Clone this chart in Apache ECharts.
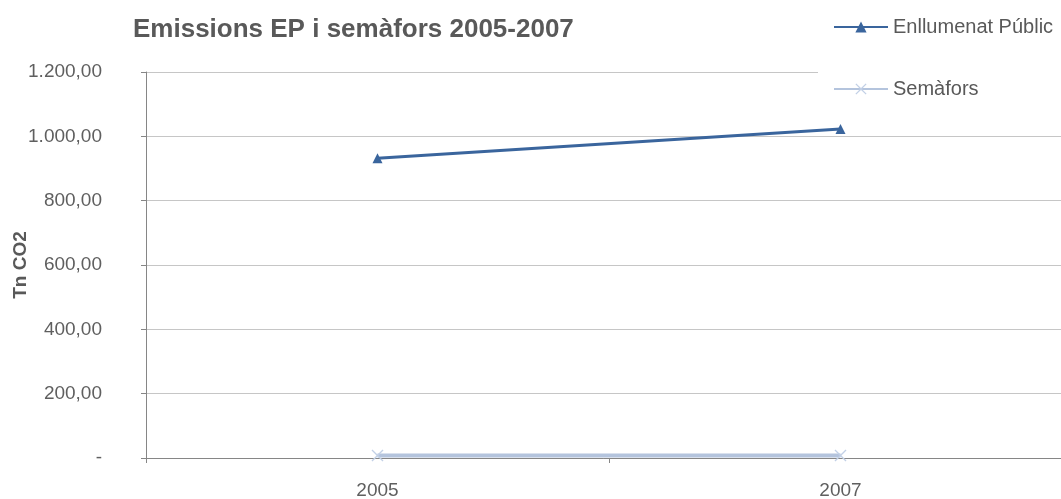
<!DOCTYPE html>
<html><head><meta charset="utf-8">
<script src="https://cdn.jsdelivr.net/npm/echarts@6/dist/echarts.min.js"></script>
<style>html,body{margin:0;padding:0;background:#fff}#c{width:1061px;height:499px}</style>
</head><body><div id="c"></div>
<script>
const categories = ['2005', '2007'];
const enllumenat = [932, 1023];
const semafors = [8, 8];
const yTicks = [0, 200, 400, 600, 800, 1000, 1200];

function fmt(v) {
  if (v === 0) return '-';
  const s = Math.round(v).toString().replace(/\B(?=(\d{3})+(?!\d))/g, '.');
  return s + ',00';
}
const xPath = 'path://M0,0.8L0.8,0L5,4.2L9.2,0L10,0.8L5.8,5L10,9.2L9.2,10L5,5.8L0.8,10L0,9.2L4.2,5Z';
const chart = echarts.init(document.getElementById('c'));
chart.setOption({
  animation: false,
  backgroundColor: '#fff',
  title: {
    text: 'Emissions EP i semàfors 2005-2007',
    left: 128, top: 12,
    textStyle: { fontFamily: 'Liberation Sans', fontWeight: 'bold', fontSize: 26, color: '#595959' }
  },
  legend: {
    orient: 'vertical', left: 818, top: 11, itemGap: 42, itemWidth: 54, itemHeight: 14,
    backgroundColor: '#fff', padding: [6, 40, 10, 15],
    textStyle: { fontFamily: 'Liberation Sans', fontSize: 20, color: '#595959' },
    data: ['Enllumenat Públic', 'Semàfors']
  },
  grid: { left: 146, top: 72, bottom: 41, right: -11, outerBoundsMode: 'none', containLabel: false },
  xAxis: {
    type: 'category', data: categories, boundaryGap: true,
    axisLine: { lineStyle: { color: '#868686', width: 1 } },
    axisTick: { show: true, length: 5, inside: false, lineStyle: { color: '#868686' } },
    axisLabel: { margin: 23, fontFamily: 'Liberation Sans', fontSize: 19, color: '#5f5f5f' }
  },
  yAxis: {
    type: 'value', min: 0, max: 1200, interval: 200,
    name: 'Tn CO2', nameLocation: 'middle', nameGap: 116, nameRotate: 90, nameMoveOverlap: false,
    nameTextStyle: { fontFamily: 'Liberation Sans', fontWeight: 'bold', fontSize: 19, color: '#595959' },
    axisLine: { show: true, lineStyle: { color: '#868686', width: 1 } },
    axisTick: { show: true, length: 5, lineStyle: { color: '#868686' } },
    axisLabel: { margin: 44, fontFamily: 'Liberation Sans', fontSize: 19, color: '#5f5f5f', formatter: fmt },
    splitLine: { lineStyle: { color: '#c6c6c6', width: 1 } }
  },
  series: [
    {
      name: 'Enllumenat Públic', type: 'line', data: enllumenat,
      symbol: 'triangle', symbolSize: 10, z: 3,
      lineStyle: { color: '#3A659D', width: 3 },
      itemStyle: { color: '#3A659D' }
    },
    {
      name: 'Semàfors', type: 'line', data: semafors,
      symbol: xPath, symbolSize: 12, z: 2,
      lineStyle: { color: '#B4C4DD', width: 4 },
      itemStyle: { color: '#C2D0E6' }
    }
  ]
});
</script></body></html>
